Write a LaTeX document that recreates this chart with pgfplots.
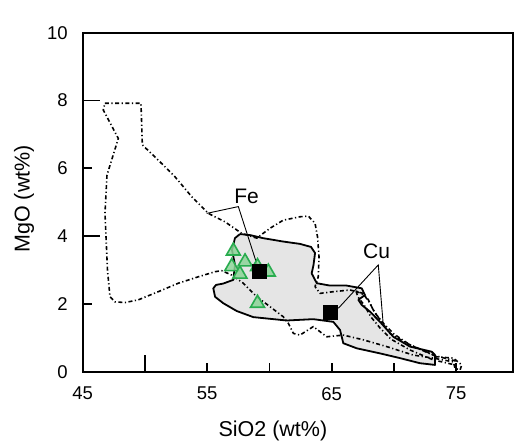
\documentclass[border=0pt]{standalone}
\usepackage{fontspec}
\setmainfont{Liberation Sans}
\usepackage{pgfplots}
\pgfplotsset{compat=1.18}
\definecolor{grayfill}{RGB}{229,229,229}
\definecolor{trigreen}{RGB}{40,172,78}
\definecolor{trifill}{RGB}{140,212,152}
\begin{document}
\begin{tikzpicture}
\begin{axis}[
  scale only axis, width=430.3pt, height=339pt,
  xmin=45, xmax=79.56, ymin=0, ymax=10,
  axis line style={line width=1.9pt},
  tick align=inside, xtick pos=bottom, ytick pos=left,
  xtick={45,55,65,75}, minor xtick={60,70},
  ytick={0,2,4,6,8,10},
  major tick length=9pt, minor tick length=9pt,
  every tick/.style={black, line width=1.6pt},
  extra x ticks={50}, extra y ticks={4,8},
  extra x tick labels={}, extra y tick labels={},
  extra tick style={major tick length=17pt},
  tick label style={font=\fontsize{18.5}{20}\selectfont},
  /pgf/number format/assume math mode=true,
  xticklabel style={yshift=-12pt}, yticklabel style={xshift=-11.5pt},
  xlabel={SiO2 (wt\%)}, ylabel={MgO (wt\%)},
  label style={font=\fontsize{21.5}{24}\selectfont},
  xlabel style={at={(rel axis cs:0.442,0)}, anchor=base, yshift=-64.7pt},
  ylabel style={at={(rel axis cs:0,0.51)}, anchor=base, yshift=53pt},
]
% gray field
\addplot[fill=grayfill, draw=black, line width=1.8pt, line join=round] coordinates {
(57.63,4.06) (58.44,4.03) (59.48,3.94) (61.09,3.84) (62.45,3.77) (63.34,3.68)
(63.66,3.50) (63.54,3.15) (63.39,2.90) (63.80,2.61) (64.86,2.54) (66.20,2.54)
(67.41,2.46) (67.67,2.26) (67.14,2.12) (67.41,1.97) (68.08,1.77) (68.88,1.47)
(69.95,1.03) (71.29,0.74) (73.03,0.59) (73.30,0.49) (73.30,0.20) (72.09,0.25)
(70.49,0.40) (68.88,0.54) (67.01,0.69) (65.93,0.84) (65.67,1.23) (65.13,1.47)
(63.52,1.55) (61.39,1.51) (58.70,1.61) (57.37,1.79) (56.29,2.02) (55.63,2.21)
(55.49,2.46) (55.71,2.56) (56.29,2.60) (57.10,2.71) (57.23,3.15) (56.99,3.59)
(57.23,3.94) (57.63,4.06)};
% Fe dashed field
\addplot[black, line width=1.6pt, line join=round, dash pattern=on 4pt off 2.5pt on 1.2pt off 2.5pt] coordinates {
(46.79,7.92) (49.68,7.92) (49.79,6.69) (51.07,6.24) (52.41,5.75) (53.76,5.16)
(55.09,4.67) (56.43,4.42) (57.77,4.08) (58.98,3.94) (60.04,4.23) (61.11,4.47)
(62.45,4.57) (63.12,4.59) (63.66,4.38) (63.86,3.98) (63.98,3.39) (63.92,2.80)
(63.66,2.51) (64.06,2.31) (65.13,2.36) (66.47,2.41) (67.54,2.31) (67.94,2.12)
(68.34,1.82) (68.88,1.53) (69.68,1.13) (71.02,0.84) (72.90,0.54) (73.43,0.44)
(74.77,0.40) (75.44,0.20) (75.31,0.05) (74.90,0.10) (74.77,0.29) (73.16,0.40)
(71.55,0.49) (69.42,0.74) (67.54,0.94) (65.93,1.08) (64.60,1.03) (64.06,1.18)
(63.52,1.33) (62.45,1.08) (61.92,1.13) (61.51,1.43) (61.11,1.62) (60.04,1.92)
(58.98,2.21) (57.90,2.61) (56.97,2.85) (56.16,2.98) (55.63,2.95) (54.29,2.80)
(52.68,2.61) (51.07,2.36) (49.47,2.12) (48.40,2.04) (47.59,2.06) (47.19,2.21)
(46.99,3.00) (46.79,4.67) (46.95,5.80) (47.86,6.88) (46.65,7.72) (46.79,7.92)};
% Cu dashed field
\addplot[black, line width=1.6pt, line join=round, dash pattern=on 4pt off 2.5pt on 1.2pt off 2.5pt] coordinates {
(66.95,2.38) (67.60,2.26) (68.00,2.06) (68.48,1.73) (69.12,1.44) (70.00,1.11)
(71.29,0.79) (73.14,0.49) (74.90,0.32) (74.90,0.20) (73.14,0.35) (71.29,0.64)
(69.76,0.96) (68.88,1.29) (68.16,1.61) (67.60,1.97) (67.11,2.20) (66.95,2.38)};
% samples
\addplot[only marks, mark=triangle*, mark size=8pt,
  mark options={draw=trigreen, fill=trifill, line width=1.6pt, fill opacity=0.85}] coordinates {
(57.10,3.56) (58.04,3.24) (56.97,3.10) (57.63,2.88) (59.04,3.10) (59.91,2.94) (59.04,2.02)};
\addplot[only marks, mark=square*, mark size=7pt, black] coordinates {(59.18,2.95) (64.86,1.76)};
% leaders
\addplot[black, line width=0.9pt] coordinates {(54.96,4.67) (57.50,4.87) (59.10,3.05)};
\addplot[black, line width=0.9pt] coordinates {(65.53,1.87) (68.74,3.15) (69.14,1.38)};
\node[font=\fontsize{21}{23}\selectfont] at (axis cs:58.16,5.18) {Fe};
\node[font=\fontsize{21}{23}\selectfont] at (axis cs:68.6,3.54) {Cu};
\end{axis}
\pgfresetboundingbox
\path[use as bounding box] ([shift={(-82.7pt,-69.3pt)}]current axis.south west) rectangle ([shift={(2pt,32.7pt)}]current axis.north east);
\end{tikzpicture}
\end{document}
